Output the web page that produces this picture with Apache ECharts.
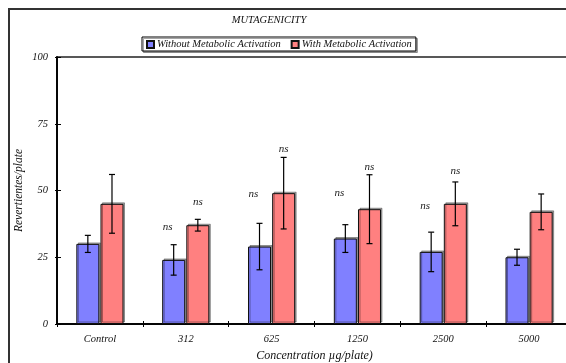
<!DOCTYPE html>
<html>
<head>
<meta charset="utf-8">
<script src="https://cdn.jsdelivr.net/npm/echarts@6/dist/echarts.min.js"></script>
<style>html,body{margin:0;padding:0;background:#fff}#c{width:566px;height:363px}</style>
</head>
<body>
<div id="c"></div>
<script>
const categories = ['Control', '312', '625', '1250', '2500', '5000'];
const withoutMeans = [30, 24, 29, 32, 27, 25];
const withoutSD = [3.2, 5.7, 8.7, 5.2, 7.4, 3.0];
const withMeans = [45, 37, 49, 43, 45, 42];
const withSD = [11, 2.2, 13.4, 12.9, 8.2, 6.7];
const withoutNs = [null, 36.3, 48.7, 49.2, 44.2, null];
const withNs = [null, 45.7, 65.5, 58.9, 57.3, null];
const yTicks = [0, 25, 50, 75, 100];

const FONT = 'Liberation Serif';
const BAR_W = 23, BAR_GAP = '5%';
const txt = {fontFamily: FONT, fontStyle: 'italic', color: '#111', fontSize: 10};

function errSeries(means, sds, ns, idx, nsDx) {
  return {
    type: 'custom', z: 5, silent: true,
    data: means.map((m, i) => [i, m, sds[i], ns[i] == null ? NaN : ns[i]]),
    encode: {x: 0, y: 1},
    renderItem(params, api) {
      let off = idx === 0 ? -12.1 : 12.1;
      try {
        const lay = api.barLayout({count: 2, barWidth: BAR_W, barGap: BAR_GAP});
        if (lay && lay[idx] && isFinite(lay[idx].offsetCenter)) off = lay[idx].offsetCenter;
      } catch (e) {}
      const i = api.value(0), m = api.value(1), sd = api.value(2), n = api.value(3);
      const top = api.coord([i, m + sd]);
      const bot = api.coord([i, m - sd]);
      const x = top[0] + off, cw = 3;
      const st = {stroke: '#000', lineWidth: 1.2};
      const children = [
        {type: 'line', shape: {x1: x, y1: top[1], x2: x, y2: bot[1]}, style: st},
        {type: 'line', shape: {x1: x - cw, y1: top[1], x2: x + cw, y2: top[1]}, style: st},
        {type: 'line', shape: {x1: x - cw, y1: bot[1], x2: x + cw, y2: bot[1]}, style: st}
      ];
      if (isFinite(n)) {
        const p = api.coord([i, n]);
        children.push({type: 'text', style: {text: 'ns', x: x + nsDx, y: p[1], align: 'center', verticalAlign: 'middle',
          font: 'italic 11px "Liberation Serif"', fill: '#222'}});
      }
      return {type: 'group', children};
    }
  };
}

const chart = echarts.init(document.getElementById('c'), null, {renderer: 'canvas'});
const axisCommon = {
  axisLine: {show: true, lineStyle: {color: '#000', width: 1.5}},
  splitLine: {show: false}
};
chart.setOption({
  animation: false,
  backgroundColor: '#fff',
  title: {text: 'MUTAGENICITY', left: 264, top: 10, textAlign: 'center',
    textStyle: {fontFamily: FONT, fontStyle: 'italic', fontWeight: 'normal', fontSize: 10.5, color: '#111'}},
  legend: {
    data: ['Without Metabolic Activation', 'With Metabolic Activation'],
    left: 142, top: 37, padding: [2, 4, 1, 4], itemGap: 10, itemWidth: 7, itemHeight: 7,
    borderColor: '#000', borderWidth: 1, icon: 'rect', backgroundColor: '#fff',
    shadowColor: 'rgba(0,0,0,0.35)', shadowBlur: 0, shadowOffsetX: 1.5, shadowOffsetY: 1.5,
    textStyle: {fontFamily: FONT, fontStyle: 'italic', fontSize: 10.5, color: '#111', padding: [0, 0, 0, -2]}
  },
  grid: {left: 57, top: 57, width: 515, height: 267, show: true, borderColor: '#222', borderWidth: 1.5,
    backgroundColor: 'transparent', containLabel: false, outerBoundsMode: 'none'},
  graphic: [{type: 'rect', shape: {x: 9, y: 9, width: 620, height: 420}, style: {fill: null, stroke: '#333', lineWidth: 2}, z: 100}],
  xAxis: [
    Object.assign({type: 'category', data: categories, name: 'Concentration µg/plate)', nameLocation: 'middle', nameGap: 26,
      nameMoveOverlap: false,
      nameTextStyle: Object.assign({}, txt, {fontSize: 12}),
      axisTick: {show: true, alignWithLabel: false, length: 3, lineStyle: {color: '#000'}},
      axisLabel: Object.assign({}, txt, {fontSize: 10.5, margin: 10})}, axisCommon),
    Object.assign({type: 'category', data: categories, position: 'bottom', gridIndex: 0,
      axisTick: {show: true, inside: true, length: 3, lineStyle: {color: '#000'}}, axisLabel: {show: false}}, axisCommon)
  ],
  yAxis: [
    Object.assign({type: 'value', min: yTicks[0], max: yTicks[yTicks.length - 1], interval: 25,
      name: 'Revertientes/plate', nameLocation: 'middle', nameGap: 32, nameMoveOverlap: false,
      nameTextStyle: Object.assign({}, txt, {fontSize: 11.5}),
      axisTick: {show: true, length: 2, lineStyle: {color: '#000'}},
      axisLabel: Object.assign({}, txt, {fontSize: 10.5, margin: 9})}, axisCommon),
    Object.assign({type: 'value', min: yTicks[0], max: yTicks[yTicks.length - 1], interval: 25, position: 'left',
      axisTick: {show: true, inside: true, length: 4, lineStyle: {color: '#000'}}, axisLabel: {show: false}}, axisCommon)
  ],
  series: [
    {name: 'Without Metabolic Activation', type: 'bar', data: withoutMeans, barWidth: BAR_W, barGap: BAR_GAP,
      itemStyle: {color: '#8080ff', borderColor: '#111', borderWidth: 1,
        shadowColor: 'rgba(0,0,0,0.35)', shadowBlur: 0, shadowOffsetX: 1.5, shadowOffsetY: -1.5}},
    {name: 'With Metabolic Activation', type: 'bar', data: withMeans, barWidth: BAR_W, barGap: BAR_GAP,
      itemStyle: {color: '#ff8080', borderColor: '#111', borderWidth: 1,
        shadowColor: 'rgba(0,0,0,0.35)', shadowBlur: 0, shadowOffsetX: 1.5, shadowOffsetY: -1.5}},
    errSeries(withoutMeans, withoutSD, withoutNs, 0, -6),
    errSeries(withMeans, withSD, withNs, 1, 0)
  ]
});
</script>
</body>
</html>
